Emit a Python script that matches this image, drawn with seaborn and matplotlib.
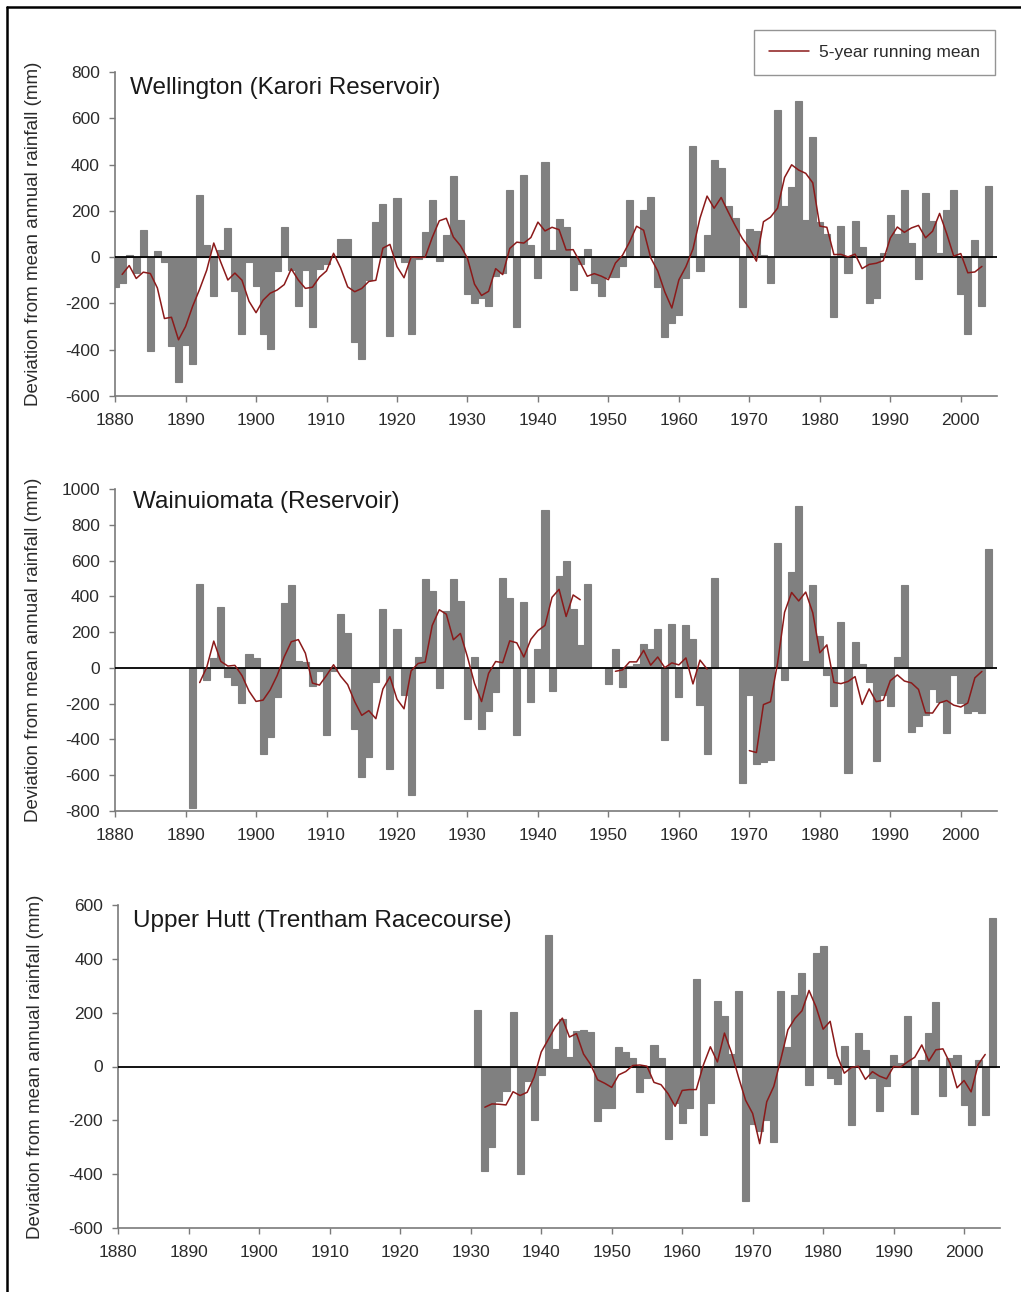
import numpy as np
import pandas as pd
import matplotlib
matplotlib.use("Agg")
import matplotlib.pyplot as plt
import seaborn as sns
from matplotlib.lines import Line2D

# ---------------- data (deviation from mean annual rainfall, mm) ----------------
years_wellington = list(range(1880, 2005))
wellington = [
    -127, -112, 10, -70, 118, -407, 25, -20, -383, -541,      # 1880-1889
    -380, -462, 268, 53, -170, 29, 125, -148, -330, -20,      # 1890-1899
    -125, -330, -395, -60, 130, -55, -213, -55, -302, -50,    # 1900-1909
    -30, 5, 80, 78, -365, -440, -100, 150, 230, -340,         # 1910-1919
    255, -20, -330, -10, 107, 245, -15, 97, 351, 161,         # 1920-1929
    -160, -200, -175, -210, -83, -70, 290, -304, 355, 53,     # 1930-1939
    -90, 410, 29, 164, 132, -141, -29, 36, -112, -167,        # 1940-1949
    -84, -84, -40, 248, 0, 202, 258, -127, -347, -285,        # 1950-1959
    -249, -91, 481, -62, 96, 420, 384, 219, 170, -217,        # 1960-1969
    122, 111, 10, -112, 634, 220, 305, 675, 161, 520,         # 1970-1979
    150, 100, -260, 135, -70, 155, 45, -200, -177, 20,        # 1980-1989
    180, 100, 288, 63, -95, 275, 155, 20, 205, 290,           # 1990-1999
    -160, -333, 75, -210, 308,                                # 2000-2004
]

years_wainui = list(range(1891, 2005))
wainui = [
    -786, 471, -69, 56, 341, -50, -97, -199, 76,              # 1891-1899
    56, -484, -386, -162, 360, 462, 37, 34, -102, -20,        # 1900-1909
    -373, -20, 304, 197, -339, -609, -497, -78, 328, -563,    # 1910-1919
    220, -153, -708, 61, 496, 428, -115, 317, 499, 373,       # 1920-1929
    -287, 61, -339, -242, -134, 503, 391, -373, 369, -190,    # 1930-1939
    108, 885, -130, 514, 596, 330, 127, 471, None, None,      # 1940-1949
    -88, 108, -106, 10, 20, 136, 108, 216, -404, 248,         # 1950-1959
    -162, 242, 160, -209, -479, 503, None, None, None, -641,  # 1960-1969
    -149, -535, -525, -516, 699, -69, 537, 904, 37, 462,      # 1970-1979
    179, -41, -214, 257, -587, 145, 19, -78, -520, -153,      # 1980-1989
    -212, 61, 466, -358, -324, -265, -120, -190, -363, -40,   # 1990-1999
    -199, -250, -242, -250, 663,                              # 2000-2004
]

years_hutt = list(range(1931, 2005))
hutt = [
    210, -387, -300, -128, -90, 204, -400, -55, -198,         # 1931-1939
    -30, 487, 66, 177, 37, 132, 135, 130, -202, -155,         # 1940-1949
    -155, 71, 53, 31, -93, -43, 80, 31, -270, -136,           # 1950-1959
    -210, -155, 326, -254, -136, 244, 186, 45, 282, -499,     # 1960-1969
    -214, -241, -200, -279, 279, 71, 264, 347, -68, 421,      # 1970-1979
    449, -43, -66, 78, -217, 124, 62, -43, -165, -74,         # 1980-1989
    41, 12, 186, -176, 25, 124, 241, -111, 31, 43,            # 1990-1999
    -142, -217, 25, -180, 551,                                # 2000-2004
]

x_ticks = list(range(1880, 2001, 10))
ylabel_text = "Deviation from mean annual rainfall (mm)"
legend_label = "5-year running mean"

# ---------------- style ----------------
sns.set_theme(style="white")
plt.rcParams["font.family"] = ["Liberation Sans", "DejaVu Sans"]

BAR = "#808080"
LINE = "#8b1a1a"
AXC = "#7a7a7a"
TXT = "#2b2b2b"

W, H = 1021, 1292
fig = plt.figure(figsize=(W / 100, H / 100), dpi=100)
fig.patch.set_facecolor("white")


def add_axes(left, right, top, bottom):
    return fig.add_axes([left / W, 1 - bottom / H, (right - left) / W, (bottom - top) / H])


panels = [
    dict(title="Wellington (Karori Reservoir)", years=years_wellington, vals=wellington,
         box=(115.1, 996.7, 72, 396), ylim=(-600, 800), yticks=list(range(-600, 801, 200)),
         tx=130, ty=88, lx=42),
    dict(title="Wainuiomata (Reservoir)", years=years_wainui, vals=wainui,
         box=(115.1, 996.7, 489, 811), ylim=(-800, 1000), yticks=list(range(-800, 1001, 200)),
         tx=133, ty=502, lx=42),
    dict(title="Upper Hutt (Trentham Racecourse)", years=years_hutt, vals=hutt,
         box=(118.4, 1000.0, 905, 1228), ylim=(-600, 600), yticks=list(range(-600, 601, 200)),
         tx=133, ty=921, lx=44),
]

for p in panels:
    left, right, top, bottom = p["box"]
    ax = add_axes(left, right, top, bottom)
    ax.set_facecolor("white")

    s = pd.Series(p["vals"], index=p["years"], dtype=float)
    df = pd.DataFrame({"year": s.index, "dev": s.values}).dropna()

    sns.barplot(data=df, x="year", y="dev", native_scale=True, width=1.0,
                color=BAR, saturation=1, errorbar=None,
                linewidth=0.8, edgecolor=BAR, ax=ax, zorder=2)

    ax.axhline(0, color="black", lw=1.3, zorder=3)

    # 5-year running mean, drawn segment by segment so data gaps stay gaps
    rm = s.rolling(5, center=True, min_periods=4).mean()
    valid = rm.notna().values
    seg_id = np.cumsum(np.r_[True, valid[1:] != valid[:-1]])
    for sid in np.unique(seg_id[valid]):
        seg = rm[(seg_id == sid) & valid]
        if len(seg) > 1:
            sns.lineplot(x=seg.index.values, y=seg.values, color=LINE, lw=1.1,
                         ax=ax, legend=False, zorder=4)

    ax.set_xlim(1880, 2005.1)
    ax.set_ylim(*p["ylim"])
    ax.set_xticks(x_ticks)
    ax.set_xticklabels([str(t) for t in x_ticks])
    ax.set_yticks(p["yticks"])
    ax.set_yticklabels([str(t) for t in p["yticks"]])
    ax.set_xlabel("")
    ax.set_ylabel(ylabel_text, fontsize=13.5, color=TXT)
    ax.yaxis.set_label_coords((p["lx"] - left) / (right - left), 0.5)

    for sp in ("top", "right"):
        ax.spines[sp].set_visible(False)
    for sp in ("left", "bottom"):
        ax.spines[sp].set_color(AXC)
        ax.spines[sp].set_linewidth(1.2)
    ax.tick_params(axis="both", which="major", bottom=True, left=True, direction="out",
                   length=4, width=1, color=AXC, labelsize=12.5, labelcolor=TXT)
    ax.tick_params(axis="x", pad=8)
    ax.tick_params(axis="y", pad=7)

    ax.text((p["tx"] - left) / (right - left), 1 - (p["ty"] - top) / (bottom - top), p["title"],
            transform=ax.transAxes, ha="left", va="center", fontsize=17.5, color="#1a1a1a")

# legend
handles = [Line2D([0], [0], color=LINE, lw=1.1)]
leg = fig.legend(handles, [legend_label], loc="upper right",
                 bbox_to_anchor=(995 / W, 1 - 30 / H), frameon=True, fancybox=False,
                 edgecolor=AXC, fontsize=12.5, handlelength=2.3, handletextpad=0.6,
                 borderpad=0.85, borderaxespad=0)
leg.get_frame().set_linewidth(1.0)
for t in leg.get_texts():
    t.set_color(TXT)

# outer frame (left and top edges visible in the reference)
fig.add_artist(Line2D([7 / W, 7 / W], [0, 1 - 7 / H], transform=fig.transFigure,
                      color="black", lw=1.8))
fig.add_artist(Line2D([7 / W, 1], [1 - 7 / H, 1 - 7 / H], transform=fig.transFigure,
                      color="black", lw=1.8))

fig.savefig("out.png", dpi=100, facecolor="white")
